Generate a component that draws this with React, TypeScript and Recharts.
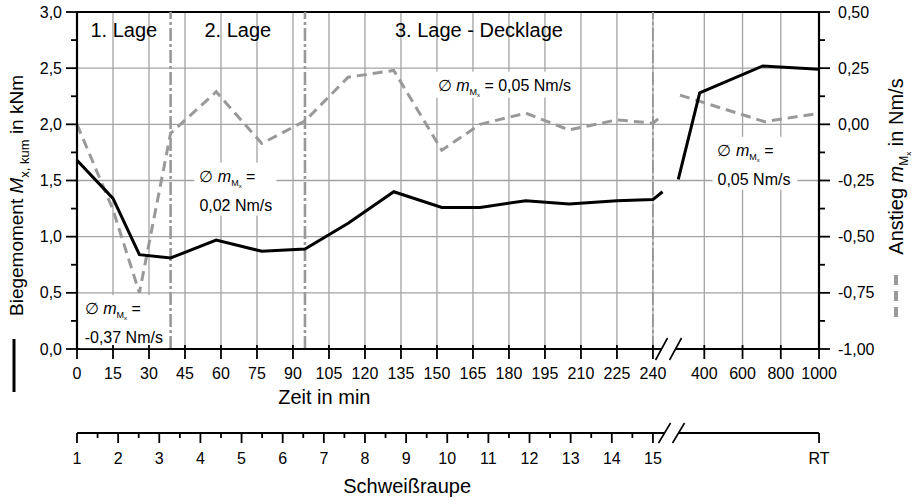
import { CartesianGrid, Line, LineChart, ReferenceArea, ReferenceDot, ReferenceLine, XAxis, YAxis } from "recharts";

const FONT = "'Liberation Sans', Arial, Helvetica, sans-serif";

// Schweißphase: Zeit in min, Biegemoment in kNm, Anstieg in Nm/s
const weldTimes = [0, 15, 26, 39, 58, 77, 95, 113, 132, 152, 168, 187, 205, 225, 240, 244];
const weldMoment = [1.68, 1.34, 0.84, 0.81, 0.97, 0.87, 0.89, 1.12, 1.4, 1.26, 1.26, 1.32, 1.29, 1.32, 1.33, 1.4];
const weldSlope = [0.0, -0.38, -0.75, -0.04, 0.145, -0.085, 0.015, 0.21, 0.24, -0.115, 0.0, 0.05, -0.025, 0.02, 0.005, 0.04];

// Abkühlphase
const coolMomentTimes = [264, 376, 706, 1000];
const coolMoment = [1.51, 2.28, 2.52, 2.49];
const coolSlopeTimes = [273, 715, 1000];
const coolSlope = [0.13, 0.012, 0.049];

// Achsen
const timeTicks = [0, 15, 30, 45, 60, 75, 90, 105, 120, 135, 150, 165, 180, 195, 210, 225, 240, 400, 600, 800, 1000];
const momentMajor = [0, 0.5, 1, 1.5, 2, 2.5, 3];
const slopeMajor = [-1, -0.75, -0.5, -0.25, 0, 0.25, 0.5];
const beadNumbers = [1, 2, 3, 4, 5, 6, 7, 8, 9, 10, 11, 12, 13, 14, 15];
const beadEndLabel = "RT";
const beadEndTime = 1000;

// Lagen
const phaseBounds = [0, 39, 95, 240, 1000];
const phaseLabels = ["1. Lage", "2. Lage", "3. Lage - Decklage", "Abkühlen"];

// mittlerer Anstieg je Abschnitt
const avgSlopes = ["-0,37", "0,02", "0,05", "0,05"];
const notes = [
  { t: 3.2, v: 0.31, twoLine: true, w: 88 },
  { t: 51, v: 1.49, twoLine: true, w: 82 },
  { t: 150.3, v: 2.3, twoLine: false, w: 139 },
  { t: 469, v: 1.72, twoLine: true, w: 85 },
];

// gebrochene Zeitachse: 0..250 min linear, danach gestaucht
const U_MAX = 309.2;
const BREAK_U = 246.5;
const toU = (t: number) => (t <= 250 ? t : 261.4 + (t - 400) * 0.0797);
const beadTime = (n: number) => (n - 1) * (240 / 14);

const pts = (ts: number[], vs: number[]) => ts.map((t, i) => ({ u: toU(t), v: vs[i] }));
const momentWeld = pts(weldTimes, weldMoment);
const slopeWeld = pts(weldTimes, weldSlope);
const momentCool = pts(coolMomentTimes, coolMoment);
const slopeCool = pts(coolSlopeTimes, coolSlope);

const minorBetween = (major: number[]) => major.slice(0, -1).map((m, i) => (m + major[i + 1]) / 2);
const momentTicks = [...momentMajor, ...minorBetween(momentMajor)].sort((a, b) => a - b);
const slopeTicks = [...slopeMajor, ...minorBetween(slopeMajor)].sort((a, b) => a - b);

const timeAxisTicks = [...timeTicks.map(toU), BREAK_U].sort((a, b) => a - b);

type BeadTick = { u: number; kind: "major" | "minor" | "break"; label: string };
const beadTickInfo: BeadTick[] = [
  ...beadNumbers.map((n) => ({ u: toU(beadTime(n)), kind: "major" as const, label: String(n) })),
  ...beadNumbers.slice(0, -1).map((n) => ({ u: toU(beadTime(n + 0.5)), kind: "minor" as const, label: "" })),
  { u: toU(beadEndTime), kind: "major", label: beadEndLabel },
  { u: BREAK_U, kind: "break", label: "" },
];
const beadAxisTicks = beadTickInfo.map((b) => b.u).sort((a, b) => a - b);

const near = (a: number, b: number) => Math.abs(a - b) < 1e-6;
const isMajor = (v: number, step: number) => near(v / step, Math.round(v / step));

function AxisBreak({ x, y, h }: { x: number; y: number; h: number }) {
  return (
    <g>
      <polygon points={`${x - 13},${y + h} ${x - 1},${y - h} ${x + 13},${y - h} ${x + 1},${y + h}`} fill="#fff" />
      <line x1={x - 13} y1={y + h} x2={x - 1} y2={y - h} stroke="#000" strokeWidth={1.6} />
      <line x1={x + 1} y1={y + h} x2={x + 13} y2={y - h} stroke="#000" strokeWidth={1.6} />
    </g>
  );
}

function MomentTick(props: any) {
  const { x, y, payload } = props;
  const v = payload.value;
  const major = isMajor(v, 0.5);
  return (
    <g>
      <line x1={x - (major ? 11 : 6)} x2={x} y1={y} y2={y} stroke="#000" strokeWidth={1.8} />
      {major && (
        <text x={x - 15} y={y} dy="0.35em" textAnchor="end" fontSize={16} fill="#000">
          {v.toFixed(1).replace(".", ",")}
        </text>
      )}
    </g>
  );
}

function SlopeTick(props: any) {
  const { x, y, payload } = props;
  const v = payload.value;
  const major = isMajor(v, 0.25);
  return (
    <g>
      <line x1={x} x2={x + (major ? 11 : 6)} y1={y} y2={y} stroke="#000" strokeWidth={1.8} />
      {major && (
        <text x={x + 19} y={y} dy="0.35em" textAnchor="start" fontSize={16} fill="#000">
          {v.toFixed(2).replace(".", ",")}
        </text>
      )}
    </g>
  );
}

function TimeTick(props: any) {
  const { x, y, payload } = props;
  const v = payload.value;
  if (near(v, BREAK_U)) return <AxisBreak x={x} y={y} h={11} />;
  const t = timeTicks.find((tt) => near(toU(tt), v));
  return (
    <g>
      <line x1={x} x2={x} y1={y - 4} y2={y + 10} stroke="#000" strokeWidth={1.8} />
      <text x={x} y={y + 30} textAnchor="middle" fontSize={16} fill="#000">
        {t}
      </text>
    </g>
  );
}

function BeadTickMark(props: any) {
  const { x, y, payload } = props;
  const info = beadTickInfo.find((b) => near(b.u, payload.value));
  if (!info) return <g />;
  if (info.kind === "break") return <AxisBreak x={x + 3} y={y} h={10} />;
  return (
    <g>
      <line x1={x} x2={x} y1={y} y2={y + (info.kind === "major" ? 10 : 5)} stroke="#000" strokeWidth={1.8} />
      {info.label && (
        <text x={x} y={y + 31} textAnchor="middle" fontSize={16} fill="#000">
          {info.label}
        </text>
      )}
    </g>
  );
}

function MomentTitle(props: any) {
  const vb = props.viewBox;
  const x = vb.x + 23;
  const cy = vb.y + vb.height / 2 + 15;
  return (
    <g>
      <text transform={`translate(${x},${cy}) rotate(-90)`} textAnchor="middle" fontSize={19} fill="#000">
        {"Biegemoment "}
        <tspan fontStyle="italic">M</tspan>
        <tspan fontSize={13} dy={6}>
          {"x, kum"}
        </tspan>
        <tspan dy={-6}>{" in kNm"}</tspan>
      </text>
      <line x1={vb.x + 14} x2={vb.x + 14} y1={vb.y + vb.height - 10} y2={vb.y + vb.height + 43} stroke="#000" strokeWidth={3} />
    </g>
  );
}

function SlopeTitle(props: any) {
  const vb = props.viewBox;
  const x = vb.x + 84;
  const cy = vb.y + vb.height / 2 - 14;
  return (
    <g>
      <text transform={`translate(${x},${cy}) rotate(-90)`} textAnchor="middle" fontSize={20} fill="#000">
        {"Anstieg "}
        <tspan fontStyle="italic">m</tspan>
        <tspan fontSize={12} dy={5}>
          M
        </tspan>
        <tspan fontSize={8} dy={3}>
          x
        </tspan>
        <tspan dy={-8}>{" in Nm/s"}</tspan>
      </text>
      <line x1={vb.x + 77} x2={vb.x + 77} y1={vb.y + vb.height - 74} y2={vb.y + vb.height - 31} stroke="#999" strokeWidth={4} strokeDasharray="10 6" />
    </g>
  );
}

function TimeTitle(props: any) {
  const vb = props.viewBox;
  return (
    <text x={vb.x + vb.width / 3} y={vb.y + 55} textAnchor="middle" fontSize={20} fill="#000">
      Zeit in min
    </text>
  );
}

function BeadTitle(props: any) {
  const vb = props.viewBox;
  return (
    <text x={vb.x + vb.width * 0.445} y={vb.y + vb.height} textAnchor="middle" fontSize={20} fill="#000">
      Schweißraupe
    </text>
  );
}

function SlopeNote(props: any) {
  const { cx, cy, text, twoLine, w } = props;
  if (cx == null || cy == null) return <g />;
  return (
    <g fontSize={16} fill="#000">
      <rect x={cx - 5} y={cy - 19} width={w} height={twoLine ? 53 : 26} fill="#fff" />
      <text x={cx} y={cy}>
        {"∅ "}
        <tspan fontStyle="italic">m</tspan>
        <tspan fontSize={9} dy={4}>
          M
        </tspan>
        <tspan fontSize={6} dy={2}>
          x
        </tspan>
        <tspan dy={-6}>{twoLine ? " =" : ` = ${text} Nm/s`}</tspan>
      </text>
      {twoLine && (
        <text x={cx} y={cy + 29}>
          {`${text} Nm/s`}
        </text>
      )}
    </g>
  );
}

export default function App() {
  return (
    <div style={{ position: "absolute", left: 0, top: 0, width: 918, height: 501, background: "#fff", fontFamily: FONT }}>
      <LineChart width={918} height={501} margin={{ top: 12, right: 0, bottom: 8, left: 0 }}>
        <CartesianGrid
          xAxisId="a_time"
          yAxisId="m"
          stroke="#a3a3a3"
          strokeWidth={1.3}
          verticalValues={timeTicks.map(toU)}
          horizontalValues={momentMajor}
        />
        <XAxis
          xAxisId="a_time"
          type="number"
          dataKey="u"
          domain={[0, U_MAX]}
          ticks={timeAxisTicks}
          interval={0}
          tick={(p: any) => <TimeTick {...p} />}
          tickLine={false}
          tickSize={0}
          tickMargin={0}
          axisLine={{ stroke: "#000", strokeWidth: 2 }}
          height={84}
          allowDataOverflow
          label={<TimeTitle />}
        />
        <XAxis
          xAxisId="b_bead"
          type="number"
          dataKey="u"
          domain={[0, U_MAX]}
          ticks={beadAxisTicks}
          interval={0}
          tick={(p: any) => <BeadTickMark {...p} />}
          tickLine={false}
          tickSize={0}
          tickMargin={0}
          axisLine={{ stroke: "#000", strokeWidth: 2 }}
          height={60}
          allowDataOverflow
          label={<BeadTitle />}
        />
        <YAxis
          yAxisId="m"
          orientation="left"
          domain={[0, 3]}
          ticks={momentTicks}
          interval={0}
          width={77}
          tick={(p: any) => <MomentTick {...p} />}
          tickLine={false}
          tickSize={0}
          tickMargin={0}
          axisLine={{ stroke: "#000", strokeWidth: 2.2 }}
          allowDataOverflow
          label={<MomentTitle />}
        />
        <YAxis
          yAxisId="slope"
          orientation="right"
          domain={[-1, 0.5]}
          ticks={slopeTicks}
          interval={0}
          width={99}
          tick={(p: any) => <SlopeTick {...p} />}
          tickLine={false}
          tickSize={0}
          tickMargin={0}
          axisLine={{ stroke: "#000", strokeWidth: 2.2 }}
          allowDataOverflow
          label={<SlopeTitle />}
        />
        <ReferenceLine xAxisId="a_time" yAxisId="m" y={3} stroke="#000" strokeWidth={2} />
        {phaseLabels.map((label, i) => (
          <ReferenceArea
            key={label}
            xAxisId="a_time"
            yAxisId="m"
            x1={toU(phaseBounds[i])}
            x2={toU(phaseBounds[i + 1])}
            fill="none"
            fillOpacity={0}
            stroke="none"
            label={{ value: label, position: "insideTop", offset: 11, fontSize: 20, fill: "#000" }}
          />
        ))}
        {phaseBounds.slice(1, -1).map((t) => (
          <ReferenceLine
            key={t}
            xAxisId="a_time"
            yAxisId="m"
            x={toU(t)}
            stroke="#999"
            strokeWidth={t === 240 ? 2 : 2.6}
            strokeDasharray="13 3 3 3"
          />
        ))}
        {notes.map((n, i) => (
          <ReferenceDot
            key={i}
            xAxisId="a_time"
            yAxisId="m"
            x={toU(n.t)}
            y={n.v}
            r={0}
            ifOverflow="visible"
            shape={(p: any) => <SlopeNote cx={p.cx} cy={p.cy} text={avgSlopes[i]} twoLine={n.twoLine} w={n.w} />}
          />
        ))}
        <Line xAxisId="a_time" yAxisId="slope" data={slopeWeld} dataKey="v" type="linear" stroke="#999" strokeWidth={3} strokeDasharray="10 6" dot={false} isAnimationActive={false} />
        <Line xAxisId="a_time" yAxisId="slope" data={slopeCool} dataKey="v" type="linear" stroke="#999" strokeWidth={3} strokeDasharray="10 6" dot={false} isAnimationActive={false} />
        <Line xAxisId="a_time" yAxisId="m" data={momentWeld} dataKey="v" type="linear" stroke="#000" strokeWidth={3} dot={false} isAnimationActive={false} />
        <Line xAxisId="a_time" yAxisId="m" data={momentCool} dataKey="v" type="linear" stroke="#000" strokeWidth={3} dot={false} isAnimationActive={false} />
      </LineChart>
    </div>
  );
}
